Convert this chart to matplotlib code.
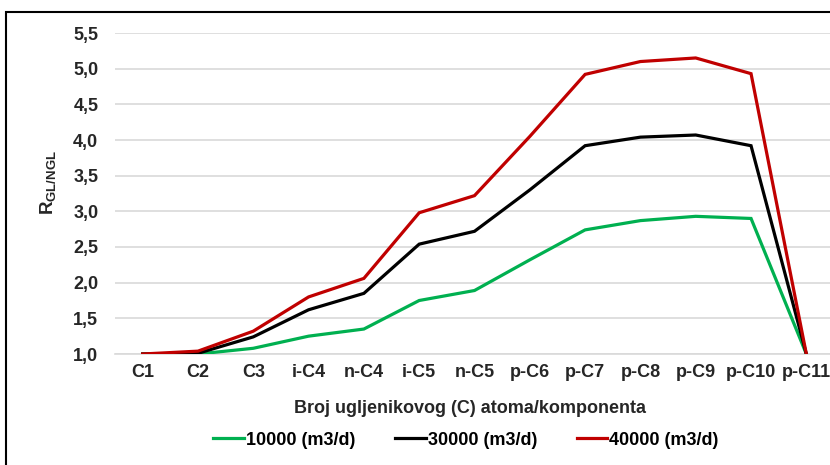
import matplotlib
matplotlib.use("Agg")
import matplotlib.pyplot as plt
from matplotlib.patches import Rectangle
from matplotlib.ticker import FuncFormatter, MultipleLocator

plt.rcParams['font.family'] = ['Liberation Sans', 'DejaVu Sans']
plt.rcParams['font.weight'] = 'bold'
plt.rcParams['mathtext.fontset'] = 'custom'
plt.rcParams['mathtext.rm'] = 'Liberation Sans:bold'
plt.rcParams['mathtext.bf'] = 'Liberation Sans:bold'

components = ['C1', 'C2', 'C3', 'i-C4', 'n-C4', 'i-C5', 'n-C5',
              'p-C6', 'p-C7', 'p-C8', 'p-C9', 'p-C10', 'p-C11']

r_10000 = [1.00, 1.00, 1.08, 1.25, 1.35, 1.75, 1.89, 2.32, 2.74, 2.87, 2.93, 2.90, 1.00]
r_30000 = [1.00, 1.01, 1.24, 1.62, 1.85, 2.54, 2.72, 3.30, 3.92, 4.04, 4.07, 3.92, 1.00]
r_40000 = [1.00, 1.04, 1.32, 1.80, 2.06, 2.98, 3.22, 4.05, 4.92, 5.10, 5.15, 4.93, 1.00]

series_names = ['10000 (m3/d)', '30000 (m3/d)', '40000 (m3/d)']
series_colors = ['#00B050', '#000000', '#C00000']

W, H = 830, 465
fig = plt.figure(figsize=(W / 100, H / 100), dpi=100)

# plot area runs slightly past the right edge of the figure
left, right, top, bottom = 115, 834, 33, 354
ax = fig.add_axes([left / W, 1 - bottom / H, (right - left) / W, (bottom - top) / H])

x = list(range(len(components)))
for vals, name, col in zip([r_10000, r_30000, r_40000], series_names, series_colors):
    ax.plot(x, vals, color=col, lw=2.3, label=name, solid_joinstyle='miter', zorder=3)

ax.set_xlim(-0.5, len(components) - 0.5)
ax.set_ylim(1.0, 5.5)
ax.yaxis.set_major_locator(MultipleLocator(0.5))
ax.yaxis.set_major_formatter(FuncFormatter(lambda v, p: f'{v:.1f}'.replace('.', ',')))
ax.set_xticks(x)
ax.set_xticklabels(components)

ax.grid(axis='y', color='#D9D9D9', lw=1.2)
ax.set_axisbelow(True)
for s in ['top', 'right', 'left']:
    ax.spines[s].set_visible(False)
ax.spines['bottom'].set_color('#D9D9D9')
ax.spines['bottom'].set_linewidth(1.2)

ax.tick_params(axis='both', length=0, labelsize=13, colors='#262626')
ax.tick_params(axis='y', pad=12)
ax.tick_params(axis='x', pad=7)

fig.text(470 / W, 1 - 408 / H, 'Broj ugljenikovog (C) atoma/komponenta',
         ha='center', va='center', fontsize=13, fontweight='bold', color='#262626')
fig.text(49 / W, 1 - 183 / H, r'$\mathrm{R}_{\mathrm{GL/NGL}}$',
         ha='center', va='center', rotation=90, fontsize=13.5, color='#262626')

fig.legend(loc='center', bbox_to_anchor=(466 / W, 1 - 440 / H), ncol=3, frameon=False,
           fontsize=13, handlelength=1.7, handletextpad=0.1, columnspacing=2.2)

fig.patches.append(Rectangle((6 / W, -0.1), 1.2, 1 - 12 / H + 0.1, transform=fig.transFigure,
                             fill=False, ec='black', lw=1.5))

fig.savefig('out.png', dpi=100)
